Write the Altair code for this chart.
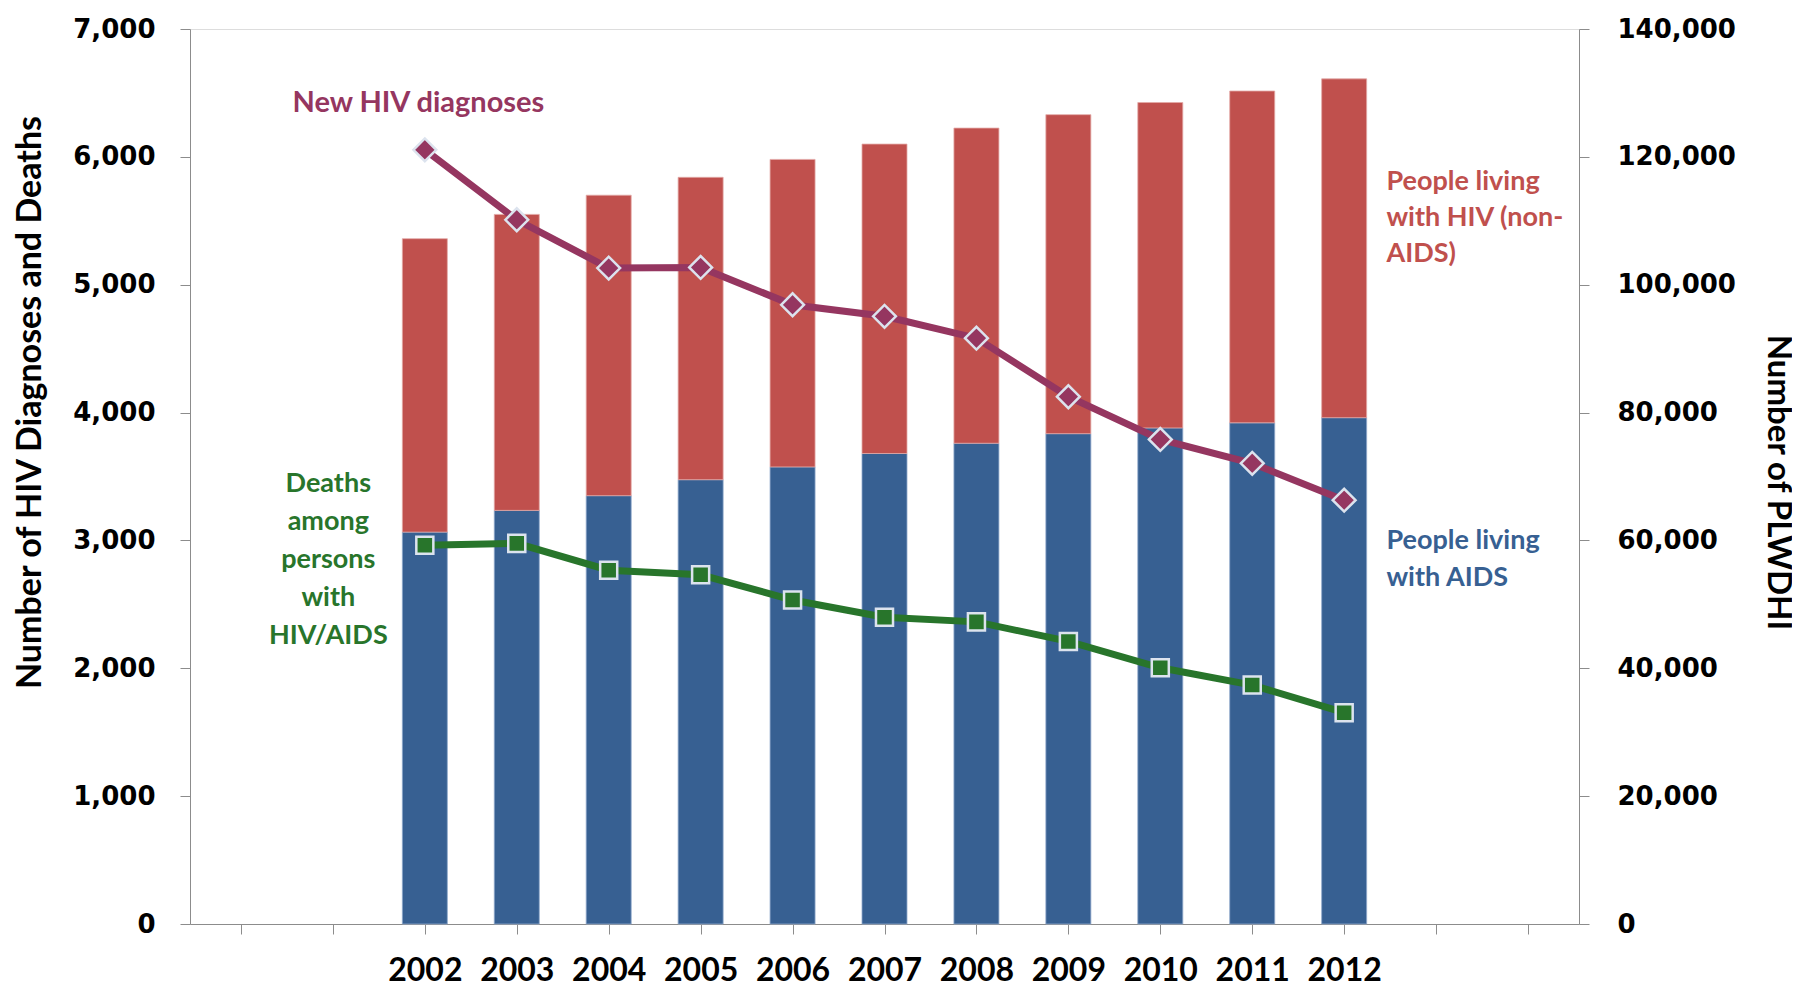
import altair as alt
import pandas as pd

# ---------------- data ----------------
years = list(range(2002, 2013))
plwdhi_aids = [61300, 64700, 67000, 69500, 71500, 73600, 75200, 76700, 77600, 78400, 79200]
plwdhi_total = [107200, 111000, 114000, 116800, 119600, 122000, 124500, 126600, 128500, 130300, 132200]
new_diagnoses = [6055, 5508, 5130, 5135, 4843, 4753, 4582, 4124, 3790, 3603, 3315]
deaths = [2962, 2977, 2767, 2731, 2534, 2399, 2363, 2210, 2004, 1869, 1653]

left_ticks = list(range(0, 7001, 1000))
right_ticks = list(range(0, 140001, 20000))
x_ticks = list(range(2000, 2015))

ann_text = ["New HIV diagnoses",
            "Deaths\namong\npersons\nwith\nHIV/AIDS",
            "People living\nwith HIV (non-\nAIDS)",
            "People living\nwith AIDS"]
ann_x = [2001.93, 2000.95, 2012.46, 2012.46]
ann_y = [6420, 3445, 5800, 2995]

df = pd.DataFrame({"year": years, "aids": plwdhi_aids, "total": plwdhi_total,
                   "diag": new_diagnoses, "deaths": deaths})

BLUE = "#376092"
RED = "#C0504D"
PURPLE = "#953660"
GREEN = "#28752B"
AXC = "#8C8C8C"

xaxis = alt.Axis(values=x_ticks, format="d",
                 labelExpr="datum.value >= 2002 && datum.value <= 2012 ? datum.label : ''",
                 title=None, grid=False, domainColor=AXC, tickColor=AXC, tickSize=10,
                 labelFont="Lato", labelFontWeight="bold", labelFontSize=32,
                 labelPadding=21, labelColor="black", labelFlush=False, labelOverlap=False)


def X(field="year"):
    return alt.X(f"{field}:Q", scale=alt.Scale(domain=[1999.5, 2014.5], nice=False, zero=False),
                 axis=xaxis)


left_axis = alt.Axis(orient="left", values=left_ticks, format=",d",
                     title="Number of HIV Diagnoses and Deaths",
                     titleFont="Lato", titleFontSize=34, titleFontWeight="bold", titleColor="black",
                     titleX=-160, titleY=373, titleAngle=270, titleAlign="center", titleBaseline="middle",
                     labelFont="DejaVu Sans", labelFontWeight="bold", labelFontSize=26, labelColor="black",
                     labelPadding=25, tickSize=10, domainColor=AXC, tickColor=AXC, grid=False,
                     labelFlush=False, labelOverlap=False)

right_axis = alt.Axis(orient="right", values=right_ticks, format=",d",
                      title="Number of PLWDHI",
                      titleFont="Lato", titleFontSize=33, titleFontWeight="bold", titleColor="black",
                      titleX=198, titleY=453, titleAngle=90, titleAlign="center", titleBaseline="middle",
                      labelFont="DejaVu Sans", labelFontWeight="bold", labelFontSize=26, labelColor="black",
                      labelPadding=28, tickSize=10, domainColor=AXC, tickColor=AXC, grid=False,
                      labelFlush=False, labelOverlap=False)


def YL(field):
    return alt.Y(f"{field}:Q", scale=alt.Scale(domain=[0, 7000], nice=False), axis=left_axis)


def YR(field):
    return alt.Y(f"{field}:Q", scale=alt.Scale(domain=[0, 140000], nice=False), axis=right_axis)


base = alt.Chart(df)

blue_bars = base.mark_bar(size=45, color=BLUE, stroke="#8FA8CC", strokeWidth=0.8).encode(
    x=X(), y=YR("aids"))
red_bars = base.mark_bar(size=45, color=RED, stroke="#E3A9A7", strokeWidth=0.8).encode(
    x=X(), y=YR("aids"), y2="total:Q")
bars = alt.layer(blue_bars, red_bars)

diag_line = base.mark_line(color=PURPLE, strokeWidth=7).encode(x=X(), y=YL("diag"))
diag_pts = base.mark_point(shape="diamond", filled=True, fill=PURPLE, stroke="#DCE3EE",
                           strokeWidth=2.5, size=520, opacity=1).encode(x=X(), y=YL("diag"))
death_line = base.mark_line(color=GREEN, strokeWidth=7).encode(x=X(), y=YL("deaths"))
death_pts = base.mark_point(shape="square", filled=True, fill=GREEN, stroke="#DCE3EE",
                            strokeWidth=2.5, size=290, opacity=1).encode(x=X(), y=YL("deaths"))

ann = pd.DataFrame({"x": ann_x, "y": ann_y, "t": ann_text})
ann_colors = [PURPLE, GREEN, RED, BLUE]
ann_align = ["center", "center", "left", "left"]
ann_size = [29, 27, 27, 27]
ann_lh = [36, 38, 36, 37]
texts = []
for i in range(len(ann_text)):
    texts.append(
        alt.Chart(ann.iloc[[i]]).mark_text(
            font="Lato", fontWeight="bold", fontSize=ann_size[i], color=ann_colors[i],
            align=ann_align[i], baseline="middle", lineBreak="\n", lineHeight=ann_lh[i]
        ).encode(x=X("x"), y=YL("y"), text="t:N")
    )

lines = alt.layer(diag_line, death_line, diag_pts, death_pts, *texts)

chart = alt.layer(bars, lines).resolve_scale(y="independent").properties(
    width=1389, height=895,
    padding={"left": 182, "top": 21, "right": 213, "bottom": 60},
    autosize=alt.AutoSizeParams(type="none"),
).configure_view(stroke=None).configure(background="white")

chart.save("out.html", embed_options={"renderer": "svg", "actions": False})
